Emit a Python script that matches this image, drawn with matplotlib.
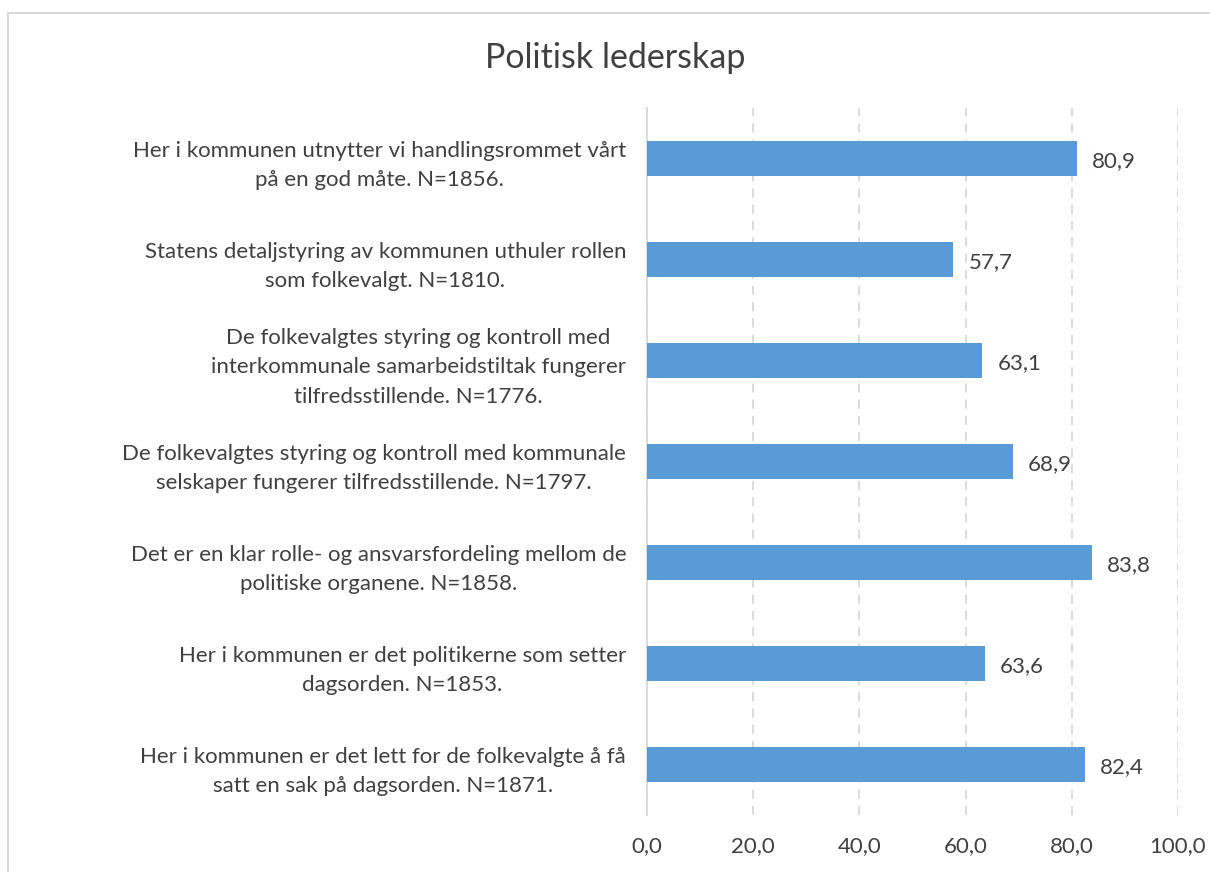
import matplotlib.pyplot as plt
from matplotlib.patches import Rectangle

plt.rcParams['font.family'] = ['Lato', 'DejaVu Sans']

labels = [
    "Her i kommunen utnytter vi handlingsrommet vårt\npå en god måte. N=1856.",
    "Statens detaljstyring av kommunen uthuler rollen\nsom folkevalgt. N=1810.",
    "De folkevalgtes styring og kontroll med\ninterkommunale samarbeidstiltak fungerer\ntilfredsstillende. N=1776.",
    "De folkevalgtes styring og kontroll med kommunale\nselskaper fungerer tilfredsstillende. N=1797.",
    "Det er en klar rolle- og ansvarsfordeling mellom de\npolitiske organene. N=1858.",
    "Her i kommunen er det politikerne som setter\ndagsorden. N=1853.",
    "Her i kommunen er det lett for de folkevalgte å få\nsatt en sak på dagsorden. N=1871.",
]
values = [80.9, 57.7, 63.1, 68.9, 83.8, 63.6, 82.4]
xticks = [0, 20, 40, 60, 80, 100]

W, H = 1210, 872
fig = plt.figure(figsize=(W / 100, H / 100), dpi=100)
ax = fig.add_axes([647 / W, 1 - 815 / H, 531 / W, (815 - 108) / H])

# chart frame (cropped at right and bottom)
fig.add_artist(Rectangle((8 / W, -0.1), 1.2, 1 - 13 / H + 0.1,
                         transform=fig.transFigure, fill=False,
                         edgecolor='#D9D9D9', lw=1.5))

pos = list(range(len(values)))
ax.barh(pos, values, height=0.35, color='#5B9BD5', zorder=3)
for p, v in zip(pos, values):
    ax.annotate(f"{v:.1f}".replace('.', ','), (v, p), xytext=(11, -2),
                textcoords='offset points', va='center', ha='left',
                fontsize=16, color='#404040')

ax.set_xlim(0, 100)
ax.set_ylim(len(values) - 0.5, -0.5)
ax.set_xticks(xticks)
ax.set_xticklabels([f"{t:.1f}".replace('.', ',') for t in xticks])
ax.set_yticks(pos)
ax.set_yticklabels(labels)
for t in ax.get_yticklabels():
    t.set_multialignment('center')
    t.set_linespacing(1.6)

ax.grid(axis='x', color='#D9D9D9', linestyle=(0, (5, 4)), lw=1.3, zorder=0)
for s in ['top', 'right', 'bottom']:
    ax.spines[s].set_visible(False)
ax.spines['left'].set_color('#D9D9D9')
ax.spines['left'].set_linewidth(1.3)
ax.tick_params(length=0, labelsize=16, colors='#404040')
ax.tick_params(axis='x', pad=15)
ax.tick_params(axis='y', pad=15)

fig.text(615 / W, 1 - 58 / H, "Politisk lederskap", ha='center', va='center',
         fontsize=24.5, color='#404040')

fig.savefig('out.png', dpi=100, facecolor='white')
